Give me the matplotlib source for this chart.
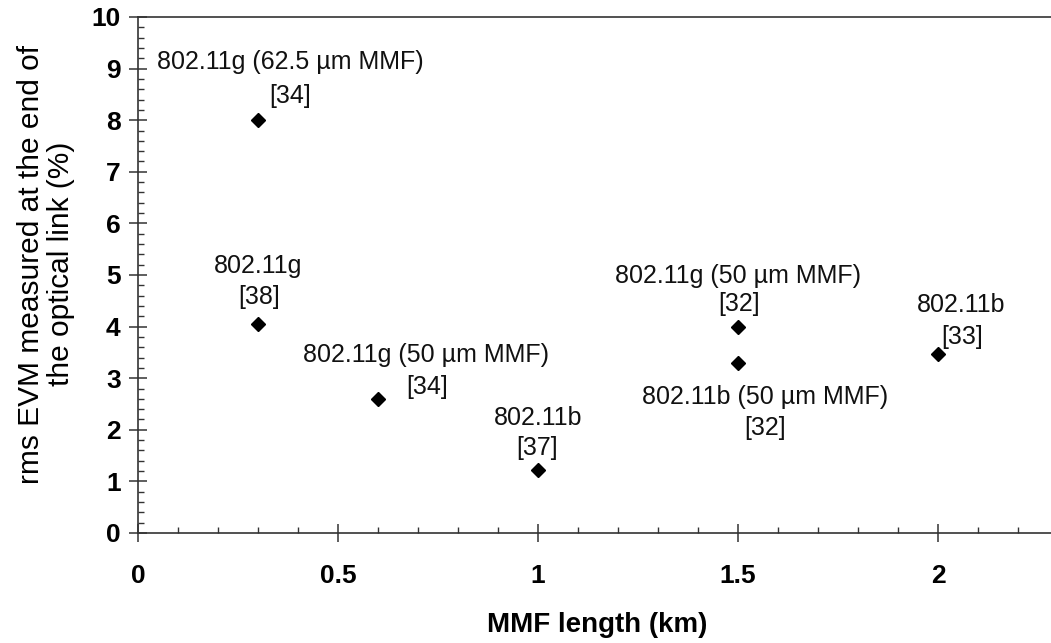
import matplotlib
matplotlib.use('Agg')
import matplotlib.pyplot as plt
from matplotlib.ticker import MultipleLocator

plt.rcParams['font.family'] = ['Liberation Sans', 'DejaVu Sans']

# data
length_km = [0.3, 0.3, 0.6, 1.0, 1.5, 1.5, 2.0]
evm_pct = [8.0, 4.05, 2.6, 1.22, 4.0, 3.3, 3.47]
labels = ['802.11g (62.5 µm MMF)', '802.11g', '802.11g (50 µm MMF)', '802.11b',
          '802.11g (50 µm MMF)', '802.11b (50 µm MMF)', '802.11b']
refs = ['[34]', '[38]', '[34]', '[37]', '[32]', '[32]', '[33]']

# label placement, offsets in pixels from the marker
label_off = [(32, 58), (0, 58), (48, 44), (0, 52), (0, 51), (27, -34), (23, 49)]
ref_off = [(32, 24), (1, 27), (49, 12), (-1, 22), (1, 23), (27, -65), (24, 17)]

fig = plt.figure(figsize=(10.51, 6.43), dpi=100)
ax = fig.add_axes([138 / 1051, 1 - 533 / 643, 1 - 138 / 1051, (533 - 17) / 643])

ax.plot(length_km, evm_pct, linestyle='none', marker='D', markersize=7.5, color='black')

for x, y, lab, r, lo, ro in zip(length_km, evm_pct, labels, refs, label_off, ref_off):
    ax.annotate(lab, (x, y), xytext=lo, textcoords='offset pixels',
                ha='center', va='center', fontsize=18, color='#111111')
    ax.annotate(r, (x, y), xytext=ro, textcoords='offset pixels',
                ha='center', va='center', fontsize=18, color='#111111')

ax.set_xlim(0, 2.2825)
ax.set_ylim(0, 10)
ax.xaxis.set_major_locator(MultipleLocator(0.5))
ax.xaxis.set_minor_locator(MultipleLocator(0.1))
ax.yaxis.set_major_locator(MultipleLocator(1))
ax.yaxis.set_minor_locator(MultipleLocator(0.2))
ax.set_xticks([0, 0.5, 1, 1.5, 2])
ax.set_xticklabels(['0', '0.5', '1', '1.5', '2'])

ax.spines['right'].set_visible(False)
for s in ['left', 'bottom', 'top']:
    ax.spines[s].set_color('#333333')
    ax.spines[s].set_linewidth(1.2)

ax.tick_params(which='major', direction='inout', length=13, width=1.1, color='#333333',
               labelsize=19, top=False, right=False)
ax.tick_params(axis='y', which='major', pad=6)
ax.tick_params(axis='x', which='major', pad=16)
ax.tick_params(which='minor', direction='in', length=4, width=1, color='#333333',
               top=False, right=False)
for t in ax.get_xticklabels() + ax.get_yticklabels():
    t.set_fontweight('bold')

fig.text(597 / 1051, 1 - 625 / 643, 'MMF length (km)', ha='center', va='center',
         fontsize=20, fontweight='bold')
fig.text(46 / 1051, 1 - 264 / 643, 'rms EVM measured at the end of\nthe optical link (%)',
         ha='center', va='center', rotation=90, multialignment='center',
         fontsize=21.5, linespacing=1.08)

fig.savefig('out.png', dpi=100)
